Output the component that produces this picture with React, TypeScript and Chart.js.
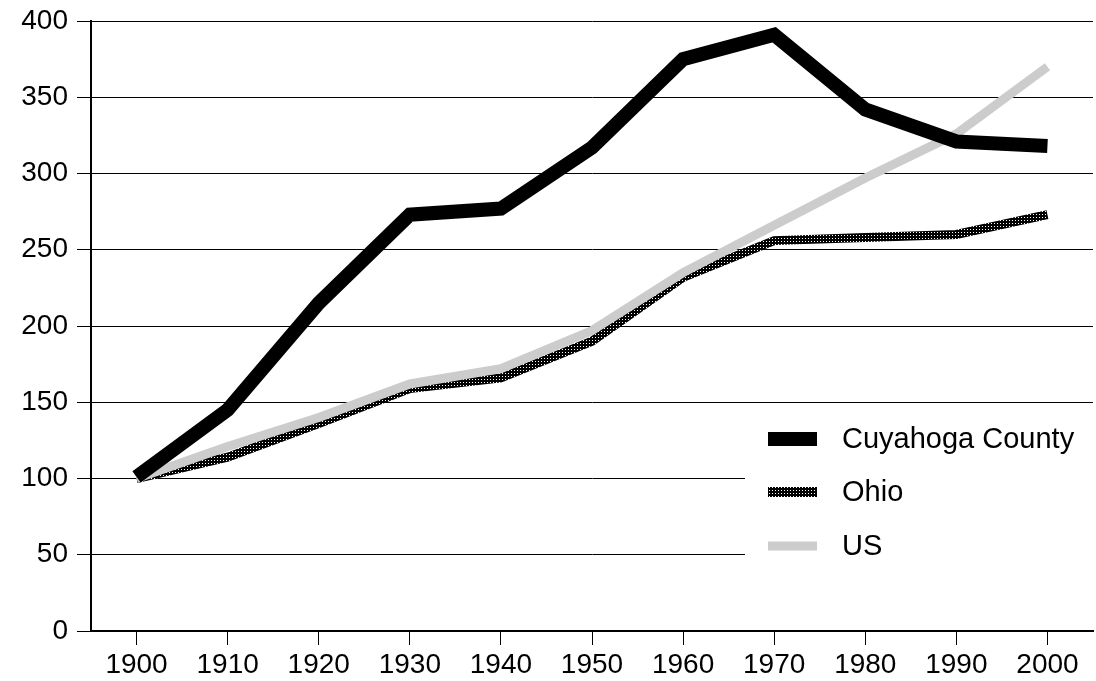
import React, { useEffect, useRef } from "react";
import { Chart, registerables } from "chart.js";

Chart.register(...registerables);

const years = ["1900", "1910", "1920", "1930", "1940", "1950", "1960", "1970", "1980", "1990", "2000"];
const cuyahoga = [101, 145, 215, 273, 277, 317, 375, 391, 342, 321, 318];
const ohio = [100, 114, 136, 159, 166, 190, 232, 256, 258, 260, 273];
const us = [100, 121, 140, 162, 172, 197, 235, 266, 297, 326, 370];
const seriesNames = ["Cuyahoga County", "Ohio", "US"];

const FONT = "'Liberation Sans', Arial, Helvetica, sans-serif";

function makePattern(): CanvasPattern | string {
  const c = document.createElement("canvas");
  c.width = 3;
  c.height = 3;
  const g = c.getContext("2d");
  if (!g) return "#333";
  g.fillStyle = "#000";
  g.fillRect(0, 0, 3, 3);
  g.fillStyle = "#fff";
  g.fillRect(1, 1, 1, 1);
  const p = g.createPattern(c, "repeat");
  return p || "#333";
}

export default function App() {
  const ref = useRef<HTMLCanvasElement | null>(null);
  useEffect(() => {
    if (!ref.current) return;
    const pattern = makePattern();
    const legendPlugin = {
      id: "customLegend",
      afterDatasetsDraw(chart: any) {
        const ctx = chart.ctx;
        ctx.save();
        ctx.fillStyle = "#fff";
        ctx.fillRect(745, 410, 351, 160);
        const items = [
          { name: seriesNames[0], color: "#000", y: 439, h: 14 },
          { name: seriesNames[1], color: pattern, y: 492, h: 10 },
          { name: seriesNames[2], color: "#cccccc", y: 546, h: 9 },
        ];
        items.forEach((it) => {
          ctx.fillStyle = it.color as any;
          ctx.fillRect(768, it.y - it.h / 2, 49, it.h);
          ctx.fillStyle = "#000";
          ctx.font = `29px ${FONT}`;
          ctx.textBaseline = "middle";
          ctx.textAlign = "left";
          ctx.fillText(it.name, 842, it.y + 1);
        });
        ctx.restore();
      },
    };
    const chart = new Chart(ref.current, {
      type: "line",
      data: {
        labels: years,
        datasets: [
          {
            label: seriesNames[1],
            data: ohio,
            borderColor: pattern as any,
            borderWidth: 9,
            pointRadius: 0,
            tension: 0,
            order: 3,
          },
          {
            label: seriesNames[2],
            data: us,
            borderColor: "#cccccc",
            borderWidth: 9,
            pointRadius: 0,
            tension: 0,
            order: 2,
          },
          {
            label: seriesNames[0],
            data: cuyahoga,
            borderColor: "#000",
            borderWidth: 14,
            pointRadius: 0,
            tension: 0,
            order: 1,
          },
        ],
      },
      plugins: [legendPlugin],
      options: {
        responsive: false,
        animation: false,
        layout: { padding: { top: 21, right: 3, left: 0, bottom: 0 } },
        plugins: { legend: { display: false }, tooltip: { enabled: false } },
        scales: {
          x: {
            offset: true,
            grid: { drawOnChartArea: false, drawTicks: true, tickLength: 14, color: "#000", lineWidth: 1 },
            border: { color: "#000", width: 2 },
            ticks: { color: "#000", font: { family: FONT, size: 28 }, padding: 3, maxRotation: 0 },
            afterFit: (s: any) => {
              s.height = 50;
              s.paddingLeft = 0;
              s.paddingRight = 0;
            },
          },
          y: {
            min: 0,
            max: 400,
            grid: { color: "#000", lineWidth: 1, tickLength: 14 },
            border: { color: "#000", width: 2 },
            ticks: { stepSize: 50, color: "#000", font: { family: FONT, size: 28 }, padding: 9 },
            afterFit: (s: any) => {
              s.width = 91;
              s.paddingTop = 0;
              s.paddingBottom = 0;
            },
          },
        },
      },
    });
    return () => chart.destroy();
  }, []);
  return (
    <div style={{ position: "absolute", left: 0, top: 0, width: 1096, height: 681, background: "#fff" }}>
      <canvas ref={ref} width={1096} height={681} style={{ width: 1096, height: 681 }} />
    </div>
  );
}
